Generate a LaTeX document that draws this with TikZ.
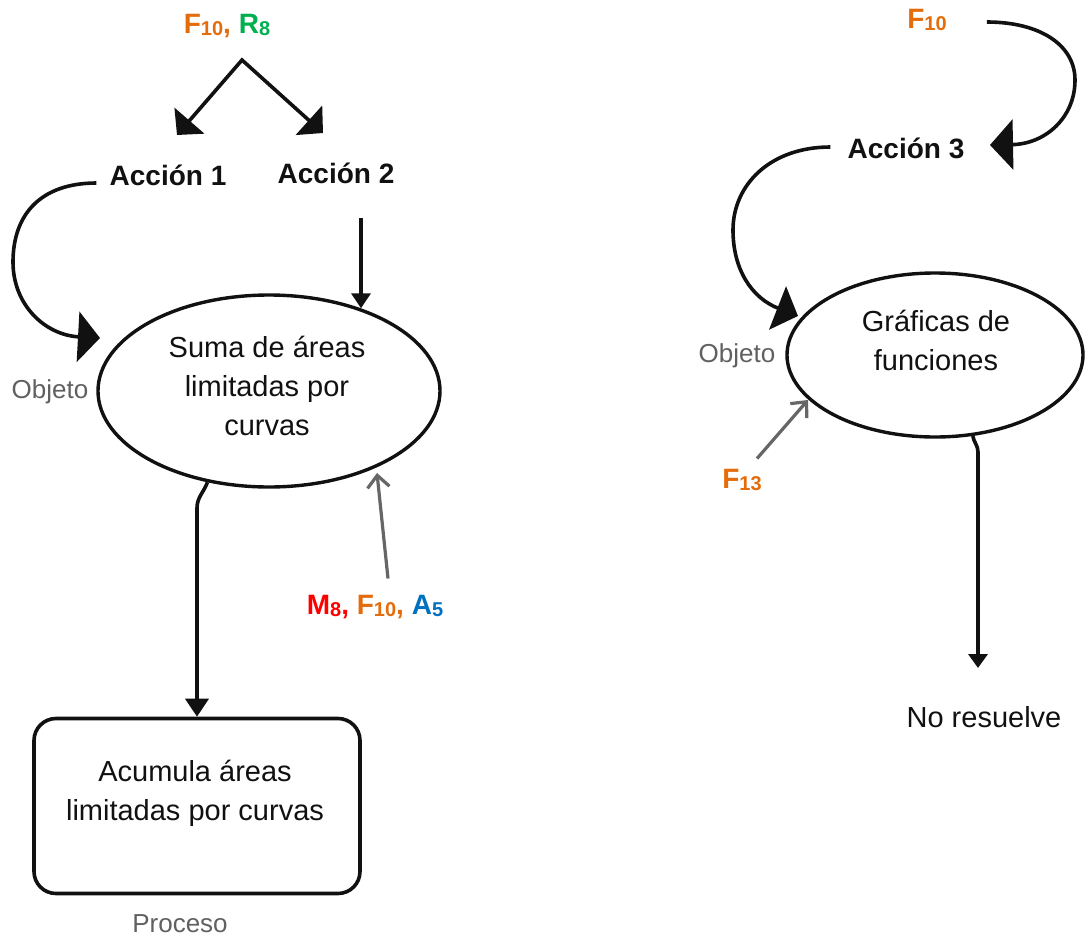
\documentclass[tikz,border=0pt]{standalone}
\usepackage{fontspec}
\setmainfont{Liberation Sans}
\usetikzlibrary{arrows.meta,shapes.geometric}
\definecolor{cor}{HTML}{E46C0A}
\definecolor{cgr}{HTML}{00B050}
\definecolor{cre}{HTML}{FF0000}
\definecolor{cbl}{HTML}{0070C0}
\definecolor{cgy}{HTML}{606060}
\definecolor{cga}{HTML}{666666}
\definecolor{ink}{HTML}{111111}
\newcommand{\subz}[1]{{\fontsize{20}{20}\selectfont\raisebox{-2.5pt}{#1}}}
\begin{document}
\begin{tikzpicture}[x=1pt,y=-1pt,
  txt/.style={font=\fontsize{29}{39}\selectfont, text=ink, inner sep=0pt, align=center},
  act/.style={font=\fontsize{28}{34}\selectfont\bfseries, text=ink, inner sep=0pt},
  lbl/.style={font=\fontsize{28}{34}\selectfont\bfseries, inner sep=0pt},
  graytxt/.style={font=\fontsize{26}{30}\selectfont, text=cgy, inner sep=0pt},
  ovalshape/.style={ellipse, draw=ink, line width=3.4pt, inner sep=0pt},
  boxshape/.style={rectangle, rounded corners=22pt, draw=ink, line width=3.6pt, inner sep=0pt},
  conn/.style={draw=ink, line width=3.6pt},
  gconn/.style={draw=cga, line width=3.2pt, -{Straight Barb[length=12pt,width=22pt]}},
]
\useasboundingbox (0,0) rectangle (1085,938);

% ---------- left part ----------
\node[lbl, anchor=base] (fr) at (227,33) {\textcolor{cor}{F\subz{10},} \textcolor{cgr}{R\subz{8}}};
\coordinate (apex) at (242,60);
\coordinate (t1) at (177,135);
\coordinate (t2) at (323,133);
\draw[conn, {Triangle[length=19pt,width=39pt]}-{Triangle[length=19pt,width=39pt]}] (t1) -- (apex) -- (t2);

\node[act, anchor=base] (a1) at (168,185) {Acción 1};
\node[act, anchor=base] (a2) at (336,183) {Acción 2};

\node[ovalshape, minimum width=342pt, minimum height=192pt] (suma) at (269,391) {};
\node[txt, anchor=base] (sumat) at (267,435) {Suma de áreas\\limitadas por\\curvas};
\node[graytxt, anchor=base] (obj1) at (50,398) {Objeto};

\coordinate (a1t) at (100,338);
\draw[conn, -{Triangle[length=22pt,width=50pt]}] ([xshift=-13pt,yshift=2pt]a1.base west)
  .. controls (40,183) and (13,215) .. (13,262)
  .. controls (13,305) and (45,335) .. (a1t);

\coordinate (a2s) at (361,218);
\draw[conn, -{Triangle[length=15pt,width=19pt]}] (a2s) -- (a2s |- suma.42);

\node[boxshape, minimum width=326pt, minimum height=175pt] (box) at (197,806) {};
\node[txt, anchor=base] (boxt) at (195,820) {Acumula áreas\\limitadas por curvas};
\node[graytxt, anchor=base] (proc) at (180,932) {Proceso};
\draw[conn, -{Triangle[length=18pt,width=23pt]}] (suma.236) to[out=250,in=90] (197,508) -- (box.north);

\node[lbl, anchor=base] (mfa) at (375,614) {\textcolor{cre}{M\subz{8},} \textcolor{cor}{F\subz{10},} \textcolor{cbl}{A\subz{5}}};
\coordinate (mtip) at (377,473);
\draw[gconn] ([xshift=13pt,yshift=16pt]mfa.north) -- (mtip);

% ---------- right part ----------
\node[lbl, anchor=base] (f10) at (927,28) {\textcolor{cor}{F\subz{10}}};
\node[act, anchor=base] (a3) at (906,158) {Acción 3};
\coordinate (a3tip) at (990,145);
\draw[conn, -{Triangle[length=23pt,width=50pt]}] ([xshift=40pt,yshift=6pt]f10.base east)
  .. controls (1040,22) and (1075,45) .. (1075,80)
  .. controls (1075,118) and (1045,144) .. (a3tip);

\node[ovalshape, minimum width=296pt, minimum height=164pt] (graf) at (935,355) {};
\node[txt, anchor=base] (graft) at (936,370) {Gráficas de\\funciones};
\node[graytxt, anchor=base] (obj2) at (737,362) {Objeto};

\coordinate (gtip) at (798,316);
\draw[conn, -{Triangle[length=22pt,width=46pt]}] ([xshift=-17pt,yshift=11pt]a3.base west)
  .. controls (770,147) and (733,185) .. (733,230)
  .. controls (733,270) and (752,298) .. (gtip);

\node[lbl, anchor=base] (f13) at (742,488) {\textcolor{cor}{F\subz{13}}};
\coordinate (ftip) at (808,400);
\draw[gconn] ([xshift=15pt,yshift=10pt]f13.north) -- (ftip);

\node[txt, anchor=base] (nr) at (984,727) {No resuelve};
\coordinate (nrtip) at (978,668);
\draw[conn, -{Triangle[length=14pt,width=19pt]}] (graf.295) to[out=280,in=90] (978,452) -- (nrtip);
\end{tikzpicture}
\end{document}
